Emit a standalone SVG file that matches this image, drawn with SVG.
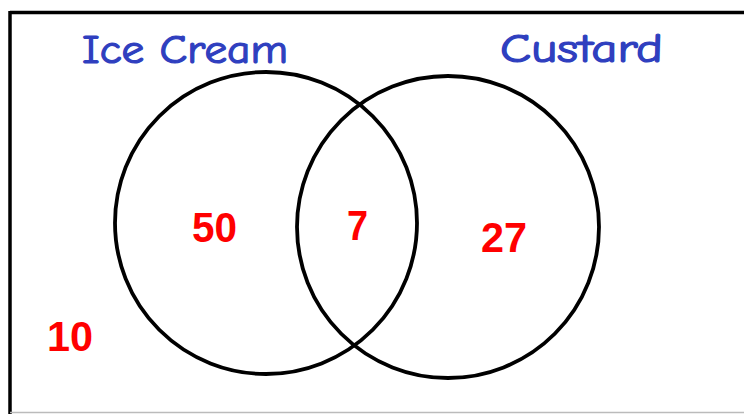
<svg xmlns="http://www.w3.org/2000/svg" width="744" height="414" viewBox="0 0 744 414">
<style>
.lbl{font-family:"Comic Neue","DejaVu Sans","Noto Sans",sans-serif;font-size:40px;fill:#2f3fbf;stroke:#2f3fbf;stroke-width:1.2}
.num{font-family:"Liberation Sans",Arial,sans-serif;font-weight:bold;font-size:43px;fill:#ff0000}
.set{fill:none;stroke:#000;stroke-width:3.8}
</style>
<rect width="744" height="414" fill="#fff"/>
<g id="frame">
<line x1="10" y1="12.5" x2="744" y2="12.5" stroke="#000" stroke-width="3.5"/>
<line x1="10" y1="11" x2="10" y2="414" stroke="#000" stroke-width="3.5"/>
<line x1="10" y1="412.5" x2="744" y2="412.5" stroke="#bbb" stroke-width="1.5"/>
</g>
<g id="ice-cream">
<circle class="set" cx="266" cy="223" r="151"/>
<text class="lbl" x="82" y="63" textLength="206" lengthAdjust="spacingAndGlyphs">Ice Cream</text>
</g>
<g id="custard">
<circle class="set" cx="448" cy="227" r="151"/>
<text class="lbl" x="500" y="62" textLength="163" lengthAdjust="spacingAndGlyphs">Custard</text>
</g>
<g id="counts">
<text class="num" x="192" y="242" textLength="45" lengthAdjust="spacingAndGlyphs">50</text>
<text class="num" x="347" y="240" textLength="21" lengthAdjust="spacingAndGlyphs">7</text>
<text class="num" x="481" y="252" textLength="46" lengthAdjust="spacingAndGlyphs">27</text>
<text class="num" x="47" y="351" textLength="46" lengthAdjust="spacingAndGlyphs">10</text>
</g>
<g id="connectors"/>
</svg>
